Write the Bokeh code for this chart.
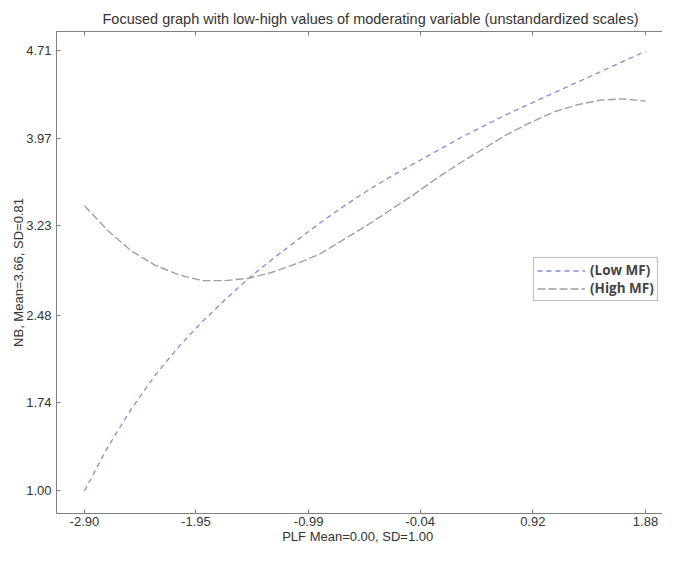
from bokeh.plotting import figure
from bokeh.models import LinearAxis, FixedTicker, Range1d, PrintfTickFormatter
from bokeh.embed import file_html
from bokeh.resources import INLINE

# ---- data ----
plf = [-2.90, -2.70, -2.50, -2.30, -2.10, -1.90, -1.70, -1.50, -1.30, -1.10,
       -0.90, -0.70, -0.50, -0.30, -0.10, 0.10, 0.30, 0.50, 0.70, 0.90,
       1.10, 1.30, 1.50, 1.70, 1.88]
nb_low_mf = [1.00, 1.37, 1.69, 1.97, 2.21, 2.42, 2.61, 2.79, 2.95, 3.10,
             3.25, 3.39, 3.52, 3.64, 3.75, 3.86, 3.97, 4.07, 4.17, 4.26,
             4.35, 4.44, 4.53, 4.62, 4.70]
nb_high_mf = [3.40, 3.19, 3.02, 2.90, 2.82, 2.77, 2.77, 2.79, 2.84, 2.91,
              2.99, 3.11, 3.23, 3.36, 3.49, 3.63, 3.76, 3.88, 4.00, 4.10,
              4.19, 4.25, 4.29, 4.30, 4.28]
x_ticks = [-2.90, -1.95, -0.99, -0.04, 0.92, 1.88]
y_ticks = [1.00, 1.74, 2.48, 3.23, 3.97, 4.71]
series_names = ["(Low MF)", "(High MF)"]
title_text = "Focused graph with low-high values of moderating variable (unstandardized scales)"
x_label = "PLF  Mean=0.00, SD=1.00"
y_label = "NB, Mean=3.66, SD=0.81"

AX = "#808080"
TXT = "#333333"
FONT = "Liberation Sans"

p = figure(width=662, height=546, output_backend="svg", toolbar_location=None,
           x_range=Range1d(-3.138, 2.025), y_range=Range1d(0.809, 4.867),
           min_border_left=56, min_border_top=31, min_border_right=0,
           min_border_bottom=0)
p.outline_line_color = None
p.xgrid.visible = False
p.ygrid.visible = False

p.title.text = title_text
p.title.align = "left"
p.title.offset = 46
p.title.text_font = FONT
p.title.text_font_size = "14.5px"
p.title.text_font_style = "normal"
p.title.text_color = TXT

def style_axis(ax, ticks):
    ax.ticker = FixedTicker(ticks=ticks)
    ax.formatter = PrintfTickFormatter(format="%.2f")
    ax.axis_line_color = AX
    ax.major_tick_line_color = AX
    ax.major_tick_in = 4
    ax.major_tick_out = 0
    ax.minor_tick_line_color = None
    ax.major_label_text_font = FONT
    ax.major_label_text_font_size = "13px"
    ax.major_label_text_color = TXT
    ax.axis_label_text_font = FONT
    ax.axis_label_text_font_size = "13px"
    ax.axis_label_text_font_style = "normal"
    ax.axis_label_text_color = TXT

xa = p.xaxis[0]
style_axis(xa, x_ticks)
xa.axis_label = x_label
xa.major_label_standoff = 3
xa.axis_label_standoff = 0

ya = p.yaxis[0]
style_axis(ya, y_ticks)
ya.axis_label = y_label
ya.major_label_standoff = 5
ya.axis_label_standoff = -3

# top frame line with inward ticks, no labels
top = LinearAxis()
style_axis(top, x_ticks)
top.major_label_text_font_size = "1px"
top.major_label_text_color = None
top.major_label_standoff = 0
p.add_layout(top, "above")

p.line(plf, nb_low_mf, line_color="#8888dc", line_dash="5 4", line_width=1.3,
       legend_label=series_names[0])
p.line(plf, nb_high_mf, line_color="#a0a0a0", line_dash="8 3", line_width=1.4,
       legend_label=series_names[1])

lg = p.legend[0]
lg.location = (477, 212)
lg.border_line_color = AX
lg.border_line_width = 1
lg.background_fill_color = "white"
lg.background_fill_alpha = 1
lg.label_text_font = "Open Sans"
lg.label_text_font_size = "13.5px"
lg.label_text_font_style = "bold"
lg.label_text_color = "#444444"
lg.glyph_width = 48
lg.glyph_height = 17
lg.label_height = 17
lg.label_standoff = 5
lg.spacing = 0
lg.padding = 3
lg.margin = 0

open("out.html", "w").write(file_html(p, INLINE))
